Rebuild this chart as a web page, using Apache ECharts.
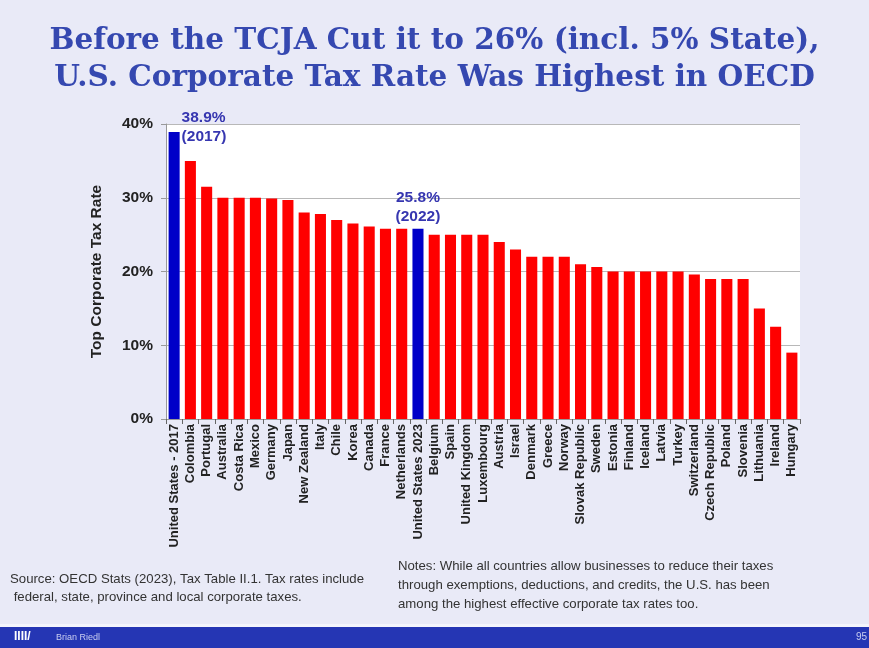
<!DOCTYPE html>
<html>
<head>
<meta charset="utf-8">
<script src="https://cdn.jsdelivr.net/npm/echarts@6/dist/echarts.min.js"></script>
<style>
html,body{margin:0;padding:0;background:#e9eaf7;}
#chart{width:869px;height:648px;}
</style>
</head>
<body>
<div id="chart"></div>
<script>
var categories = ["United States - 2017","Colombia","Portugal","Australia","Costa Rica","Mexico","Germany","Japan","New Zealand","Italy","Chile","Korea","Canada","France","Netherlands","United States 2023","Belgium","Spain","United Kingdom","Luxembourg","Austria","Israel","Denmark","Greece","Norway","Slovak Republic","Sweden","Estonia","Finland","Iceland","Latvia","Turkey","Switzerland","Czech Republic","Poland","Slovenia","Lithuania","Ireland","Hungary"];
var rates = [38.9,35,31.5,30,30,30,29.9,29.7,28,27.8,27,26.5,26.1,25.8,25.8,25.8,25,25,25,25,24,23,22,22,22,21,20.6,20,20,20,20,20,19.6,19,19,19,15,12.5,9];
var highlighted = {"United States - 2017":"38.9%\n(2017)","United States 2023":"25.8%\n(2022)"};
var yTicks = [0,10,20,30,40];

var chart = echarts.init(document.getElementById('chart'));
var data = rates.map(function(v,i){
  var c = categories[i];
  var item = {value:v};
  if (highlighted[c]) {
    item.itemStyle = {color:'#0000c8'};
    item.label = {show:true, formatter:highlighted[c]};
    if (i === 0) {
      item.label.position = [13,-24];
      item.label.align = 'left';
      item.label.verticalAlign = 'top';
    } else {
      item.label.position = 'top';
      item.label.distance = 3;
      item.label.align = 'center';
    }
  }
  return item;
});

chart.setOption({
  backgroundColor:'#e9eaf7',
  title:{
    text:'Before the TCJA Cut it to 26% (incl. 5% State),\nU.S. Corporate Tax Rate Was Highest in OECD',
    left:'center', top:18,
    textStyle:{fontFamily:'DejaVu Serif', fontWeight:'bold', fontSize:29.5, lineHeight:37, color:'#3548b0'}
  },
  grid:{left:166, top:124, right:69, bottom:229, show:true, backgroundColor:'#ffffff', borderWidth:0},
  xAxis:{
    type:'category', data:categories,
    axisLine:{lineStyle:{color:'#999'}},
    axisTick:{show:true, alignWithLabel:false, lineStyle:{color:'#666'}},
    axisLabel:{interval:0, rotate:90, fontSize:13, fontWeight:'bold', fontFamily:'Liberation Sans', color:'#222', margin:5}
  },
  yAxis:{
    type:'value', min:0, max:40, interval:10,
    name:'Top Corporate Tax Rate', nameLocation:'middle', nameGap:61,
    nameTextStyle:{fontFamily:'Liberation Sans', fontWeight:'bold', fontSize:15.5, color:'#222'},
    axisLine:{show:true, lineStyle:{color:'#999'}},
    axisTick:{show:true, lineStyle:{color:'#999'}},
    axisLabel:{formatter:function(v){return v+'%';}, fontFamily:'Liberation Sans', fontWeight:'bold', fontSize:15.5, color:'#222', margin:13},
    splitLine:{lineStyle:{color:'#b8b8b8'}}
  },
  series:[{
    type:'bar', data:data, barWidth:'68%',
    itemStyle:{color:'#ff0000'},
    label:{show:false, fontFamily:'Liberation Sans', fontWeight:'bold', fontSize:15.5, lineHeight:19, color:'#3636b0'}
  }],
  graphic:[
    {type:'text', left:10, top:570, style:{text:'Source: OECD Stats (2023), Tax Table II.1. Tax rates include\n federal, state, province and local corporate taxes.', font:'13.2px Liberation Sans', fill:'#333', lineHeight:18}},
    {type:'text', left:398, top:557, style:{text:'Notes: While all countries allow businesses to reduce their taxes\nthrough exemptions, deductions, and credits, the U.S. has been\namong the highest effective corporate tax rates too.', font:'13.2px Liberation Sans', fill:'#333', lineHeight:19}},
    {type:'rect', shape:{x:0, y:624, width:869, height:3}, style:{fill:'#f4f5fc'}},
    {type:'rect', shape:{x:0, y:627, width:869, height:21}, style:{fill:'#2536b4'}},
    {type:'text', left:14, top:631, style:{text:'IIII/', font:'bold 12px Liberation Sans', fill:'#ffffff'}},
    {type:'text', left:56, top:633, style:{text:'Brian Riedl', font:'9px Liberation Sans', fill:'#c8cdf0'}},
    {type:'text', left:856, top:632, style:{text:'95', font:'10px Liberation Sans', fill:'#c8cdf0'}}
  ]
});
</script>
</body>
</html>
